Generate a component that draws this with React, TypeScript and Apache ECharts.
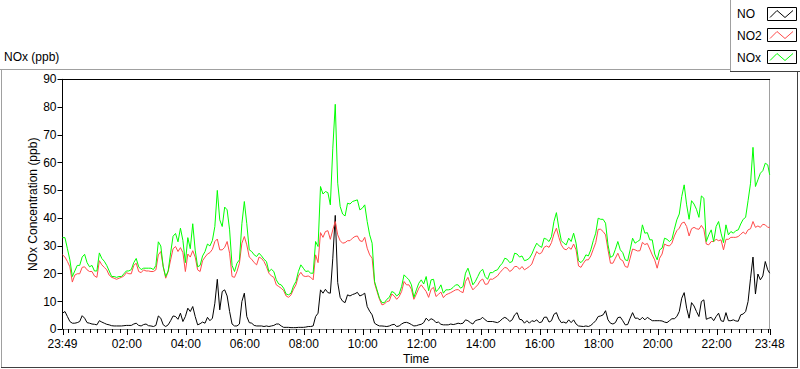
import React, { useEffect, useRef } from "react";
import * as echarts from "echarts";

// time axis: minutes relative to midnight (23:49 of the previous day = -11)
const START_MIN = -11;
const END_MIN = 1428;
const STEP_MIN = 5;

const X_LABEL_VALUES = [-11, 120, 240, 360, 480, 600, 720, 840, 960, 1080, 1200, 1320, 1428];
const MINOR_TICK_STEP = 15;

const SERIES_NAMES = ["NO", "NO2", "NOx"];
const SERIES_COLORS = ["#000000", "#ff4a4a", "#00ff00"];

const NO = [
  5.8, 6.4, 4.6, 2.8, 2.2, 2.2, 2.4, 2.8, 4.9, 4, 2.4, 2.2, 1.9, 1.8, 1.6, 3.1, 2.6, 2.2, 1.8, 1.6,
  1.3, 1.2, 1.2, 1.2, 1.2, 1.3, 1.4, 1.4, 1.4, 1.9, 2.2, 1.4, 1.2, 1.7, 1.9, 1.3, 1.2, 1, 1.4, 4.8,
  4, 1.6, 1, 1.6, 3.1, 4.8, 4.6, 3.6,
  5.8, 2.8, 4.6, 7.6, 6.4, 8.2, 4.6, 1.6, 2, 2.6, 2.2, 4.3, 3.1, 4, 9.4, 18, 7, 13.6, 14.2, 12,
  6.4, 1.9, 1.2, 1.2, 1.9, 10, 13, 4.6, 2.4, 2.2, 1.4, 1.2, 1.2, 1.2, 1, 1.2, 1, 1.2, 1.4, 1.9,
  1.9, 1.2, 0.7, 0.7, 0.7, 0.6, 0.6, 0.6,
  0.7, 0.7, 0.7, 0.8, 1, 1, 1.2, 4.6, 5.8, 14.2, 13, 14.4, 13.2, 13, 25.6, 41, 16.8, 11.5, 10.1, 9.6,
  12.4, 12, 12.5, 12.8, 13.3, 12, 12.4, 13, 8.2, 6.5, 5.2, 2.2, 1.6, 1.2, 1.2, 1.1, 1, 1.2, 1.6, 1.8,
  1, 1.2, 1.9, 2.4, 2.5, 2.2, 1.7, 1.2,
  1.3, 1.6, 1.8, 2.4, 4, 3.1, 3.8, 3.4, 2.4, 2.6, 1.8, 1.6, 1.6, 1.6, 1.9, 1.7, 1.9, 2.2, 2, 2.2,
  3.4, 3.1, 2.4, 1.9, 3.1, 3.4, 3.6, 4.3, 3.4, 2.8, 2.8, 2.8, 2.6, 2.4, 2.9, 3.8, 4.3, 3.8, 2.8, 3.4,
  5.2, 6, 3.6, 3.4, 2.2, 3.1, 2.2, 3.1,
  2.8, 3.4, 2.4, 2.6, 4.3, 4.4, 2.6, 3.1, 5.4, 6, 3.7, 2.4, 2.6, 2.2, 3.4, 2.4, 3.4, 1.9, 1.2, 1.1,
  1, 1.2, 1, 1.4, 2.2, 3.1, 4.6, 4.8, 5.2, 6.7, 3.4, 2.2, 1.9, 2.4, 4.2, 4.4, 3.1, 1.6, 1.7, 4,
  6, 4, 4, 3.4, 4.3, 3.4, 4.3, 3.7,
  3.1, 3.1, 3.1, 3.1, 3, 2.6, 2.4, 3.1, 3.8, 3.8, 4.6, 6.4, 11.2, 13.2, 7.6, 4, 9.6, 8.4, 6.4, 4.6,
  10, 10.6, 3.6, 4, 4.3, 3.1, 4.6, 5.8, 3.1, 2.8, 6, 3.1, 3.1, 3.4, 3, 2.9, 5.2, 5.5, 6.4, 10,
  18.4, 26, 12.7, 19.9, 17.8, 19.2, 24.4, 21.4, 20.2,
];

const NO2 = [
  26.8, 26, 24.4, 22.5, 17, 19.5, 20, 20, 22.3, 22.5, 21.4, 20.8, 20.8, 19.2, 18.7, 24.7, 23.2, 22.3, 21.4, 19.5,
  18.7, 18.4, 18, 18.4, 18.7, 19.2, 20.4, 20, 20, 23, 23.8, 20.8, 20.4, 21.4, 21, 21, 20.8, 20.8, 21.4, 26.8,
  28, 22.5, 18.4, 20.8, 25, 29, 29.8, 28,
  29.4, 27.6, 20.8, 27.1, 26, 28.3, 26, 21.4, 20.8, 24.7, 26, 27.1, 27.6, 28.8, 31.6, 32.5, 28.6, 28.6, 29.5, 31.6,
  27.4, 19, 18.7, 20.8, 23.8, 31, 33.4, 30.4, 26, 25.2, 24, 23.2, 26, 25.5, 24.4, 22.6, 20.2, 19.2, 18.7, 16,
  15.4, 14.8, 13.9, 12, 11.5, 12.4, 14.4, 16,
  19.2, 20.5, 19.2, 19, 19.2, 18.7, 17.8, 26.8, 24, 34.8, 33.1, 35.2, 35.5, 32.4, 35.8, 38.8, 34, 31.9, 31, 31.2,
  31.9, 31.9, 32.8, 33.4, 33.6, 31.9, 31.6, 33.1, 29.2, 26.8, 25.6, 16.6, 13.6, 10.8, 8.8, 9.1, 10, 10.2, 12.7, 12,
  10.8, 11.8, 13.6, 17.2, 16, 16, 14.4, 10.8,
  12.7, 14.8, 16, 14.8, 13.6, 11.5, 14.4, 15.1, 11.8, 12.6, 13.4, 11.4, 12.4, 12.8, 13.2, 13.7, 14.2, 14.3, 13.6, 13.2,
  17.2, 18.7, 16, 14.2, 15.1, 16, 17.5, 18.1, 16.2, 16.3, 18.1, 18, 18.6, 19.2, 20.4, 21.4, 22.3, 22, 20.8, 21.4,
  22.6, 22.6, 21.6, 22.6, 21.4, 22, 22.6, 23.5,
  25.9, 28, 27.1, 27.6, 29.5, 30, 29.5, 31.2, 34.3, 36.4, 33.1, 30.4, 29, 28.6, 29.5, 28.8, 30.7, 28.6, 22.8, 22.3,
  23.8, 25, 25, 26.4, 28.8, 31.2, 36, 36, 35.2, 34, 28.6, 23.8, 23.8, 25.6, 27.4, 25.2, 24.7, 22.6, 22.3, 25.6,
  28.9, 28.6, 28.2, 28.3, 31.3, 30.5, 30.9, 28.9,
  26.8, 25, 22, 25.6, 27.1, 30.7, 30.2, 30, 31, 33.6, 35.5, 36.4, 38.2, 38.6, 37, 33.6, 36.2, 36.7, 36.2, 36,
  37.4, 36, 30.7, 30.4, 31.6, 31.6, 32.4, 31.9, 32.2, 28.6, 32.4, 32.4, 33.1, 33.1, 33.1, 33.4, 34.2, 35, 34.3, 35.8,
  36.2, 38.8, 36.7, 37.2, 36.7, 37.8, 37.6, 36.7, 36.7,
];

const NOX = [
  33, 33, 29, 25, 19, 21, 23, 23, 26, 27, 24, 22.5, 23, 21, 21, 27.5, 25.5, 24.5, 23, 21,
  19, 19, 18.7, 19, 19, 20, 21, 21, 21.5, 24, 25.5, 22.5, 21.5, 22, 22, 22, 22, 21.5, 23, 31.5,
  30, 22.5, 19, 21, 27.5, 33.5, 34.5, 31.5,
  36.4, 32, 24, 33, 29, 38, 28.5, 22.5, 23, 26.4, 28, 30.7, 30, 32, 37, 50, 39.4, 37, 44, 43,
  35.8, 23, 20.8, 23.8, 25, 38, 46, 38, 28.6, 28, 26.8, 26.2, 27.4, 26.4, 25.2, 24.4, 20.8, 21.6, 20.8, 17.8,
  16.3, 16, 14.8, 12.7, 12.4, 13, 15.6, 17.2,
  20.8, 23.2, 22, 20.8, 21, 20.2, 20.2, 31.6, 29.8, 51.4, 48.7, 49.6, 49.2, 44.8, 65.2, 81, 52.6, 44.2, 41.5, 40.8,
  45.4, 45.1, 46, 46.3, 46.6, 43, 43.6, 44.8, 38.8, 34, 31, 17.2, 14.2, 11.2, 9.6, 9.6, 10.8, 11.5, 13.6, 13.2,
  12, 12.7, 15.4, 19.6, 18.7, 17.8, 16, 11.5,
  14.2, 16.6, 17.8, 16.3, 19, 13.9, 17.8, 18, 13.6, 14.4, 16, 13, 14.2, 14.2, 14.4, 15.1, 16, 16, 14.8, 15.4,
  20.2, 22, 19.2, 16, 17.2, 19, 20.8, 21.6, 19, 18, 20.4, 20.4, 21.1, 21.4, 22.8, 23.8, 25.6, 25.2, 24, 24.4,
  27.4, 27.1, 26, 26.4, 24.7, 25, 25.6, 27.1,
  29.2, 31, 30, 29.5, 32.8, 32.4, 31.6, 33.4, 38.8, 42, 36.4, 31.9, 31, 30.4, 32.8, 31.6, 34.6, 31, 24.7, 24,
  25, 26.8, 26.4, 28.6, 31.9, 34.6, 40, 39.6, 39.6, 38.2, 30.4, 25.9, 26.4, 28.8, 31.6, 28.6, 27.6, 25, 24.7, 28.6,
  32.8, 31, 31.6, 32.2, 37.6, 34.6, 34.8, 32.2,
  32.2, 27.1, 25, 28.6, 29.2, 32.8, 32.4, 31.6, 32.4, 36, 39.4, 41.5, 47.8, 52, 44.8, 39.6, 46.3, 45.1, 43.2, 40.3,
  48, 47.2, 31.6, 34, 35.8, 31.6, 37, 38.8, 34.6, 31.2, 37.6, 34, 35.2, 34.6, 35.5, 35.8, 37.9, 39.6, 40.3, 46.3,
  52.6, 65.5, 51.4, 53.8, 56.2, 57.1, 59.8, 59.2, 55.6,
];

const FONT = "'Liberation Sans', Arial, sans-serif";

function fmtTime(v: number): string {
  const m = ((Math.round(v) % 1440) + 1440) % 1440;
  const h = Math.floor(m / 60);
  const mm = m % 60;
  return `${String(h).padStart(2, "0")}:${String(mm).padStart(2, "0")}`;
}

function toPairs(values: number[]): [number, number][] {
  return values.map((v, i) => [Math.min(START_MIN + STEP_MIN * i, END_MIN), v]);
}

export default function App() {
  const ref = useRef<HTMLDivElement>(null);

  useEffect(() => {
    document.body.style.margin = "0";
    if (!ref.current) return;
    const chart = echarts.init(ref.current, undefined, { renderer: "svg" });

    // x tick marks: [time, y (axis base), tick length]
    const tickData: [number, number, number][] = [];
    for (let m = 0; m <= END_MIN; m += MINOR_TICK_STEP) {
      if (X_LABEL_VALUES.indexOf(m) < 0) tickData.push([m, 0, 4]);
    }
    X_LABEL_VALUES.forEach((m) => tickData.push([m, 0, 6]));

    const legendItems = SERIES_NAMES.map((name, k) => {
      const by = [7.5, 28.5, 50.5][k];
      const cy = [14, 36, 58][k];
      return [
        {
          type: "text",
          x: 737,
          y: cy,
          style: { text: name, fill: "#000", fontSize: 12, fontFamily: FONT, verticalAlign: "middle", align: "left" },
        },
        {
          type: "rect",
          shape: { x: 767.5, y: by, width: 29, height: 13 },
          style: { fill: "#fff", stroke: "#000", lineWidth: 1 },
        },
        {
          type: "polyline",
          shape: {
            points: [
              [770, by + 10],
              [777, by + 3],
              [785, by + 10],
              [793, by + 3],
            ],
          },
          style: { stroke: SERIES_COLORS[k], lineWidth: 1, fill: "none" },
        },
      ];
    }).flat();

    const option: any = {
      animation: false,
      grid: { left: 62.5, right: 30.3, top: 79.3, bottom: 39.7, containLabel: false, outerBoundsMode: "none" },
      xAxis: [
        {
          type: "value",
          min: START_MIN,
          max: END_MIN,
          position: "bottom",
          axisLine: { show: true, onZero: false, lineStyle: { color: "#808080", width: 1 } },
          axisTick: { show: false },
          axisLabel: {
            customValues: X_LABEL_VALUES,
            formatter: (v: number) => fmtTime(v),
            color: "#000",
            fontSize: 12,
            fontFamily: FONT,
            margin: 9,
          },
          splitLine: { show: false },
          name: "Time",
          nameLocation: "middle",
          nameGap: 24,
          nameMoveOverlap: false,
          nameTextStyle: { color: "#000", fontSize: 12, fontFamily: FONT },
        },
        {
          type: "value",
          min: START_MIN,
          max: END_MIN,
          position: "top",
          axisLine: { show: true, onZero: false, lineStyle: { color: "#000" } },
          axisTick: { show: false },
          axisLabel: { show: false },
          splitLine: { show: false },
        },
      ],
      yAxis: [
        {
          type: "value",
          min: 0,
          max: 90,
          interval: 10,
          position: "left",
          axisLine: { show: true, onZero: false, lineStyle: { color: "#000" } },
          axisTick: { show: true, length: 5, lineStyle: { color: "#000" } },
          axisLabel: { color: "#000", fontSize: 12, fontFamily: FONT, margin: 6 },
          splitLine: { show: false },
          name: "NOx Concentration (ppb)",
          nameLocation: "middle",
          nameGap: 24,
          nameMoveOverlap: false,
          nameRotate: 90,
          nameTextStyle: { color: "#000", fontSize: 12, fontFamily: FONT },
        },
        {
          type: "value",
          min: 0,
          max: 90,
          position: "right",
          axisLine: { show: true, onZero: false, lineStyle: { color: "#a0a0a0" } },
          axisTick: { show: false },
          axisLabel: { show: false },
          splitLine: { show: false },
        },
      ],
      series: [
        ...[NO, NO2, NOX].map((vals, k) => ({
          name: SERIES_NAMES[k],
          type: "line",
          xAxisIndex: 0,
          yAxisIndex: 0,
          data: toPairs(vals),
          showSymbol: false,
          symbol: "none",
          lineStyle: { color: SERIES_COLORS[k], width: 1 },
          itemStyle: { color: SERIES_COLORS[k] },
          silent: true,
        })),
        {
          type: "custom",
          name: "xticks",
          xAxisIndex: 0,
          yAxisIndex: 0,
          silent: true,
          clip: false,
          z: 10,
          data: tickData,
          dimensions: ["t", "base", "len"],
          encode: { x: 0, y: 1 },
          renderItem: (params: any, api: any) => {
            const p = api.coord([api.value(0), api.value(1)]);
            const len = api.value(2);
            const x = Math.round(p[0]) + 0.5;
            const y0 = Math.round(p[1]);
            return {
              type: "line",
              shape: { x1: x, y1: y0, x2: x, y2: y0 + len },
              style: { stroke: "#000", lineWidth: 1 },
            };
          },
        },
      ],
      graphic: [
        {
          type: "text",
          x: 4,
          y: 57,
          style: { text: "NOx (ppb)", fill: "#000", fontSize: 12, fontFamily: FONT, verticalAlign: "middle", align: "left" },
        },
        // outer frame
        { type: "line", shape: { x1: 0, y1: 69.5, x2: 731, y2: 69.5 }, style: { stroke: "#a0a0a0", lineWidth: 1 } },
        { type: "line", shape: { x1: 1.5, y1: 69.5, x2: 1.5, y2: 367.5 }, style: { stroke: "#a0a0a0", lineWidth: 1 } },
        { type: "line", shape: { x1: 1, y1: 367.5, x2: 798, y2: 367.5 }, style: { stroke: "#404040", lineWidth: 1 } },
        { type: "line", shape: { x1: 797.5, y1: 72, x2: 797.5, y2: 368 }, style: { stroke: "#404040", lineWidth: 1 } },
        // legend box
        { type: "rect", shape: { x: 730, y: 0, width: 70, height: 72 }, style: { fill: "#fff" } },
        { type: "line", shape: { x1: 730.5, y1: 0, x2: 730.5, y2: 72 }, style: { stroke: "#a0a0a0", lineWidth: 1 } },
        { type: "line", shape: { x1: 730, y1: 71.5, x2: 800, y2: 71.5 }, style: { stroke: "#404040", lineWidth: 1 } },
        ...legendItems,
      ],
    };

    chart.setOption(option);
    return () => chart.dispose();
  }, []);

  return <div ref={ref} style={{ width: 800, height: 369 }} />;
}
